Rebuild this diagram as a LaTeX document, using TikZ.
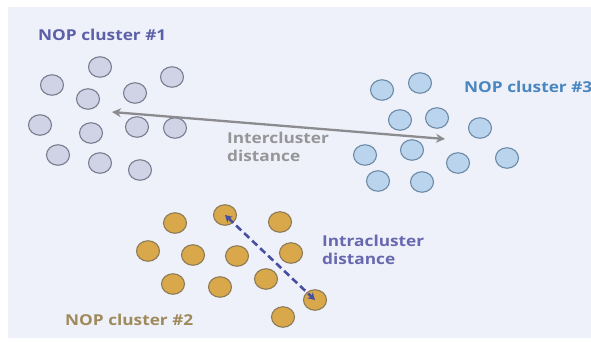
\documentclass[tikz,border=0pt]{standalone}
\usepackage{fontspec}
\setmainfont{Open Sans}[FakeStretch=1.15]
\usetikzlibrary{shapes.geometric,arrows.meta}
\definecolor{bgc}{RGB}{238,241,249}
\definecolor{grayfill}{RGB}{208,211,229}
\definecolor{grayline}{RGB}{120,124,142}
\definecolor{bluefill}{RGB}{186,212,238}
\definecolor{blueline}{RGB}{108,138,166}
\definecolor{goldfill}{RGB}{216,168,74}
\definecolor{goldline}{RGB}{140,122,86}
\definecolor{lbl1}{RGB}{92,96,168}
\definecolor{lbl3}{RGB}{74,134,192}
\definecolor{lbl2}{RGB}{160,138,92}
\definecolor{intercol}{RGB}{150,150,152}
\definecolor{intracol}{RGB}{104,104,176}
\definecolor{arrowgray}{RGB}{140,140,144}
\definecolor{dashcol}{RGB}{72,78,160}
\tikzset{
  pt/.style={ellipse, draw, line width=1.1pt, minimum width=23pt, minimum height=20.5pt, inner sep=0pt},
  ptgray/.style={pt, fill=grayfill, draw=grayline},
  ptblue/.style={pt, fill=bluefill, draw=blueline},
  ptgold/.style={pt, fill=goldfill, draw=goldline},
  lbl/.style={font=\fontsize{15}{18}\selectfont\bfseries, inner sep=0pt, anchor=west},
  twoline/.style={font=\fontsize{15}{18}\selectfont\bfseries, inner sep=0pt, anchor=north west, align=left}
}
\begin{document}
\begin{tikzpicture}[x=1pt,y=-1pt]
\useasboundingbox (0,0) rectangle (591,341);
\fill[bgc] (8,7) rectangle (591,338);
% cluster 1
\node[ptgray] (a1) at (100,67) {};
\node[ptgray] (a2) at (52,85) {};
\node[ptgray] (a3) at (172,77) {};
\node[ptgray] (a4) at (88,99) {};
\node[ptgray] (a5) at (135,93) {};
\node[ptgray] (a6) at (40,125) {};
\node[ptgray] (a7) at (91,133) {};
\node[ptgray] (a8) at (137,127) {};
\node[ptgray] (a9) at (175,128) {};
\node[ptgray] (a10) at (58,155) {};
\node[ptgray] (a11) at (100,163) {};
\node[ptgray] (a12) at (140,170) {};
% cluster 3
\node[ptblue] (b1) at (382,90) {};
\node[ptblue] (b2) at (420,83) {};
\node[ptblue] (b3) at (400,120) {};
\node[ptblue] (b4) at (437,118) {};
\node[ptblue] (b5) at (480,128) {};
\node[ptblue] (b6) at (365,155) {};
\node[ptblue] (b7) at (412,150) {};
\node[ptblue] (b8) at (458,163) {};
\node[ptblue] (b9) at (507,158) {};
\node[ptblue] (b10) at (378,181) {};
\node[ptblue] (b11) at (422,182) {};
% cluster 2
\node[ptgold] (c1) at (175,223) {};
\node[ptgold] (c2) at (225,215) {};
\node[ptgold] (c3) at (280,222) {};
\node[ptgold] (c4) at (148,251) {};
\node[ptgold] (c5) at (193,255) {};
\node[ptgold] (c6) at (237,256) {};
\node[ptgold] (c7) at (291,253) {};
\node[ptgold] (c8) at (173,284) {};
\node[ptgold] (c9) at (220,287) {};
\node[ptgold] (c10) at (266,279) {};
\node[ptgold] (c11) at (283,317) {};
\node[ptgold] (c12) at (315,300) {};
% labels
\node[lbl, text=lbl1] (l1) at (38,35) {NOP cluster \#1};
\node[lbl, text=lbl3] (l3) at (464,87) {NOP cluster \#3};
\node[lbl, text=lbl2] (l2) at (65,320) {NOP cluster \#2};
\node[twoline, text=intercol] (inter) at (227,132) {Intercluster\\distance};
\node[twoline, text=intracol] (intra) at (322,235) {Intracluster\\distance};
% inter-cluster arrow
\coordinate (ia) at (112,112);
\coordinate (ib) at (445,139);
\draw[arrowgray, line width=2.3pt, {Stealth[length=9pt,width=9pt]}-{Stealth[length=9pt,width=9pt]}] (ia) -- (ib);
% intra-cluster dashed
\draw[dashcol, line width=2.6pt, dash pattern=on 7pt off 4pt, {Stealth[length=7pt,width=8pt]}-{Stealth[length=7pt,width=8pt]}] (c2.center) -- (c12.center);
\end{tikzpicture}
\end{document}
